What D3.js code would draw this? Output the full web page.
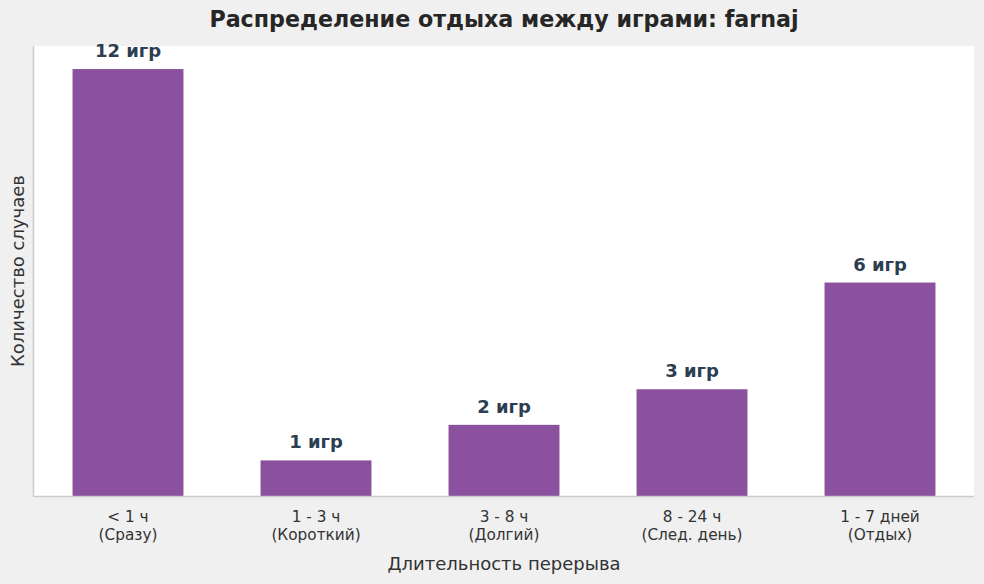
<!DOCTYPE html>
<html>
<head>
<meta charset="utf-8">
<script src="https://cdn.jsdelivr.net/npm/d3@7/dist/d3.min.js"></script>
<style>
  body { margin: 0; background: #f0f0f0; }
  svg { display: block; }
  svg text { font-family: "DejaVu Sans", Verdana, sans-serif; }
</style>
</head>
<body>
<svg id="chart"></svg>
<script>
const categories = ["< 1 ч|(Сразу)", "1 - 3 ч|(Короткий)", "3 - 8 ч|(Долгий)", "8 - 24 ч|(След. день)", "1 - 7 дней|(Отдых)"];
const counts = [12, 1, 2, 3, 6];
const valueLabels = ["12 игр", "1 игр", "2 игр", "3 игр", "6 игр"];

const width = 984, height = 584;
const margin = { top: 46, right: 10, bottom: 88, left: 34 };
const font = "DejaVu Sans, Verdana, sans-serif";

const svg = d3.select("#chart")
  .attr("width", width)
  .attr("height", height);

svg.append("rect")
  .attr("width", width).attr("height", height)
  .attr("fill", "#f0f0f0");

const x = d3.scaleBand()
  .domain(categories)
  .range([margin.left, width - margin.right])
  .paddingInner(0.41)
  .paddingOuter(0.205);

const y = d3.scaleLinear()
  .domain([0, d3.max(counts) * 1.054])
  .range([height - margin.bottom, margin.top]);

// plot area
svg.append("rect")
  .attr("x", margin.left)
  .attr("y", margin.top)
  .attr("width", width - margin.left - margin.right)
  .attr("height", height - margin.top - margin.bottom)
  .attr("fill", "#ffffff");

svg.selectAll("rect.bar")
  .data(counts)
  .enter()
  .append("rect")
  .attr("class", "bar")
  .attr("x", (d, i) => x(categories[i]))
  .attr("y", (d) => y(d))
  .attr("width", x.bandwidth())
  .attr("height", (d) => y(0) - y(d))
  .attr("fill", "#8b509e");

svg.selectAll("text.value")
  .data(counts)
  .enter()
  .append("text")
  .attr("class", "value")
  .attr("x", (d, i) => x(categories[i]) + x.bandwidth() / 2)
  .attr("y", (d) => y(d) - 12)
  .attr("text-anchor", "middle")
  .attr("font-family", font)
  .attr("font-size", 18)
  .attr("font-weight", "bold")
  .attr("fill", "#2c3e50")
  .text((d, i) => valueLabels[i]);

// spines
svg.append("line")
  .attr("x1", margin.left - 0.5).attr("x2", margin.left - 0.5)
  .attr("y1", margin.top).attr("y2", y(0) + 1)
  .attr("stroke", "#cccccc").attr("stroke-width", 1.5);
svg.append("line")
  .attr("x1", margin.left - 1).attr("x2", width - margin.right)
  .attr("y1", y(0) + 0.5).attr("y2", y(0) + 0.5)
  .attr("stroke", "#cccccc").attr("stroke-width", 1.5);

// x axis tick labels
const xAxis = svg.append("g")
  .attr("transform", `translate(0, ${y(0)})`)
  .call(d3.axisBottom(x).tickSize(0).tickFormat(""));
xAxis.attr("font-family", font);
xAxis.select(".domain").remove();
xAxis.selectAll(".tick").each(function (d) {
  const lines = d.split("|");
  const t = d3.select(this).append("text")
    .attr("text-anchor", "middle")
    .attr("font-family", font)
    .attr("font-size", 15.3)
    .attr("fill", "#333333");
  lines.forEach((line, i) => {
    t.append("tspan")
      .attr("x", 0)
      .attr("y", 26 + i * 18)
      .text(line);
  });
});

// titles
svg.append("text")
  .attr("x", (margin.left + width - margin.right) / 2)
  .attr("y", 27)
  .attr("text-anchor", "middle")
  .attr("font-family", font)
  .attr("font-size", 22.2)
  .attr("font-weight", "bold")
  .attr("fill", "#262626")
  .text("Распределение отдыха между играми: farnaj");

svg.append("text")
  .attr("x", (margin.left + width - margin.right) / 2)
  .attr("y", 570)
  .attr("text-anchor", "middle")
  .attr("font-family", font)
  .attr("font-size", 18)
  .attr("fill", "#333333")
  .text("Длительность перерыва");

svg.append("text")
  .attr("transform", `translate(24, ${(margin.top + y(0)) / 2}) rotate(-90)`)
  .attr("text-anchor", "middle")
  .attr("font-family", font)
  .attr("font-size", 18)
  .attr("fill", "#333333")
  .text("Количество случаев");
</script>
</body>
</html>
